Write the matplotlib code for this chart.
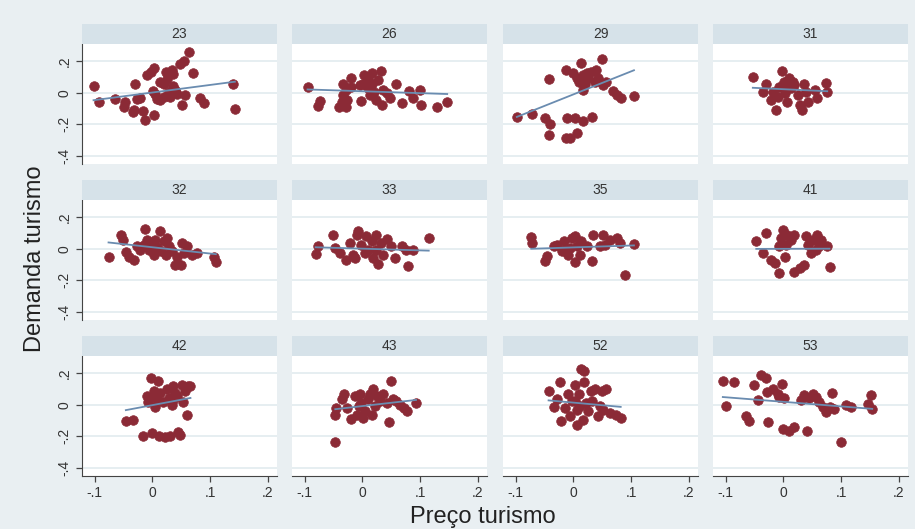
import matplotlib.pyplot as plt
import numpy as np

plt.rcParams['font.family'] = ['Liberation Sans', 'DejaVu Sans']

# dados (preço x demanda, por grupo)
groups = ['23', '26', '29', '31', '32', '33', '35', '41', '42', '43', '52', '53']

x23 = [-0.102, -0.092, -0.064, -0.047, -0.049, -0.032, -0.033, -0.031, -0.027, -0.021, -0.016, -0.013,
       0.002, -0.009, -0.003, 0.003, 0.001, 0.005, 0.008, 0.014, 0.020, 0.013, 0.020, 0.024, 0.028,
       0.031, 0.034, 0.036, 0.036, 0.040, 0.043, 0.047, 0.054, 0.052, 0.057, 0.064, 0.071, 0.083,
       0.090, 0.139, 0.143, 0.025]
y23 = [0.044, -0.059, -0.042, -0.057, -0.093, -0.106, -0.120, 0.059, -0.040, -0.030, -0.114, -0.170,
       -0.138, 0.112, 0.133, 0.155, 0.013, -0.008, -0.042, 0.070, 0.059, -0.047, -0.025, 0.133, 0.006,
       -0.025, 0.144, 0.117, 0.044, 0.017, -0.008, 0.186, 0.203, -0.078, -0.015, 0.260, 0.123, -0.036,
       -0.064, 0.055, -0.100, 0.090]

x26 = [-0.095, -0.074, -0.077, -0.041, -0.036, -0.033, -0.033, -0.029, -0.028, -0.026, -0.019, -0.020,
       -0.002, 0.001, 0.003, 0.009, 0.010, 0.013, 0.016, 0.017, 0.020, 0.024, 0.027, 0.033, 0.034,
       0.036, 0.042, 0.047, 0.059, 0.068, 0.080, 0.088, 0.099, 0.102, 0.130, 0.147, -0.005]
y26 = [0.034, -0.053, -0.085, -0.093, -0.057, -0.015, 0.059, -0.093, 0.021, -0.047, 0.091, 0.038,
       -0.051, 0.059, 0.112, 0.085, 0.028, -0.015, 0.127, 0.059, 0.006, -0.047, 0.081, 0.140, -0.078,
       0.017, -0.004, -0.030, 0.053, -0.064, 0.013, -0.030, 0.017, -0.078, -0.089, -0.061, 0.049]

x29 = [-0.098, -0.072, -0.050, -0.040, -0.043, -0.043, -0.013, -0.011, -0.013, -0.006, 0.002, 0.007,
       0.016, 0.013, 0.000, 0.006, 0.009, 0.016, 0.017, 0.020, 0.026, 0.030, 0.033, 0.037, 0.040,
       0.043, 0.049, 0.052, 0.056, 0.069, 0.075, 0.082, 0.105, 0.023]
y29 = [-0.153, -0.136, -0.163, -0.201, -0.269, 0.085, 0.144, -0.163, -0.290, -0.286, -0.157, -0.258,
       -0.180, 0.191, 0.123, 0.091, 0.070, 0.112, 0.021, 0.059, 0.091, 0.133, -0.153, 0.070, 0.144,
       0.097, 0.212, 0.049, 0.070, 0.013, -0.015, -0.030, -0.021, 0.123]

x31 = [-0.053, -0.036, -0.030, -0.022, -0.018, -0.013, -0.010, -0.007, -0.002, 0.001, 0.002, 0.007,
       0.010, 0.014, 0.019, 0.025, 0.028, 0.032, 0.035, 0.042, 0.039, 0.054, 0.059, 0.074, 0.076,
       0.008, 0.016]
y31 = [0.102, 0.006, 0.059, -0.047, 0.006, -0.106, -0.025, 0.038, 0.140, 0.070, -0.004, -0.057,
       0.091, 0.028, 0.049, -0.015, -0.078, -0.106, 0.059, -0.057, 0.006, 0.017, -0.030, 0.064, 0.006,
       0.038, 0.070]

x32 = [-0.076, -0.054, -0.051, -0.045, -0.041, -0.032, -0.027, -0.015, -0.012, -0.010, -0.006, -0.001,
       0.003, 0.008, 0.013, 0.015, 0.020, 0.023, 0.026, 0.028, 0.034, 0.040, 0.043, 0.049, 0.052,
       0.054, 0.060, 0.069, 0.078, 0.107, 0.110, -0.021, 0.005]
y32 = [-0.049, 0.089, 0.057, -0.021, -0.049, -0.070, 0.015, 0.026, 0.128, 0.057, -0.006, 0.036,
       -0.038, 0.009, 0.111, -0.017, 0.047, -0.038, 0.068, 0.015, -0.013, -0.102, -0.055, -0.102, 0.036,
       -0.028, 0.015, -0.038, -0.028, -0.049, -0.085, -0.006, 0.057]

x33 = [-0.081, -0.077, -0.051, -0.048, -0.039, -0.028, -0.022, -0.016, -0.013, -0.010, -0.008, -0.002,
       0.004, 0.007, 0.010, 0.016, 0.018, 0.023, 0.024, 0.027, 0.032, 0.036, 0.042, 0.050, 0.056,
       0.068, 0.076, 0.079, 0.088, 0.115]
y33 = [-0.034, 0.021, 0.089, 0.004, -0.028, -0.070, 0.036, -0.038, -0.060, 0.089, 0.115, 0.026,
       -0.028, 0.079, -0.006, 0.047, -0.060, 0.089, -0.006, -0.098, 0.036, -0.038, 0.064, 0.015, -0.060,
       0.015, -0.006, -0.106, -0.006, 0.068]

x35 = [-0.073, -0.072, -0.050, -0.046, -0.034, -0.029, -0.017, -0.014, -0.009, -0.003, 0.002, 0.003,
       0.006, 0.011, 0.014, 0.023, 0.032, 0.034, 0.046, 0.052, 0.055, 0.063, 0.076, 0.080, 0.089,
       0.105, -0.006, -0.020]
y35 = [0.072, 0.036, -0.077, -0.043, 0.015, 0.026, 0.047, -0.006, -0.038, 0.068, 0.079, -0.085,
       0.015, -0.038, 0.047, 0.015, -0.077, 0.089, 0.021, 0.085, 0.026, 0.057, 0.068, 0.036, -0.166,
       0.030, 0.004, -0.017]

x41 = [-0.047, -0.036, -0.031, -0.021, -0.014, -0.007, -0.007, -0.004, -0.001, 0.002, 0.005, 0.007,
       0.014, 0.019, 0.019, 0.028, 0.035, 0.039, 0.043, 0.047, 0.051, 0.057, 0.059, 0.065, 0.076,
       0.080, 0.062]
y41 = [0.051, -0.028, 0.100, -0.070, -0.091, -0.155, 0.015, 0.068, 0.121, -0.049, 0.026, 0.089,
       0.057, 0.089, -0.145, -0.123, -0.102, 0.079, 0.026, -0.028, 0.057, -0.006, 0.089, 0.057, 0.021,
       -0.113, 0.015]

x42 = [-0.046, -0.034, -0.016, -0.010, -0.007, -0.003, -0.001, 0.002, 0.005, 0.008, 0.010, 0.012,
       0.013, 0.019, 0.022, 0.025, 0.028, 0.031, 0.034, 0.036, 0.039, 0.042, 0.045, 0.048, 0.051,
       0.053, 0.057, 0.060, 0.062, 0.066, 0.003, 0.036]
y42 = [-0.100, -0.096, -0.198, 0.053, 0.021, 0.170, -0.181, 0.085, -0.015, 0.032, 0.149, -0.198,
       0.074, 0.021, -0.202, 0.100, 0.043, -0.198, 0.000, 0.117, 0.074, 0.053, -0.170, -0.191, 0.128,
       0.021, 0.085, -0.064, 0.117, 0.117, 0.053, 0.032]

x43 = [-0.047, -0.047, -0.045, -0.036, -0.032, -0.026, -0.019, -0.013, -0.010, -0.006, -0.005, 0.001,
       0.004, 0.009, 0.013, 0.016, 0.018, 0.021, 0.026, 0.030, 0.036, 0.042, 0.046, 0.049, 0.053,
       0.059, 0.065, 0.072, 0.078, 0.093, -0.002]
y43 = [-0.238, -0.062, -0.023, 0.034, 0.066, -0.019, -0.089, 0.055, -0.062, -0.009, 0.066, -0.083,
       -0.040, 0.034, 0.066, -0.062, 0.098, -0.009, 0.055, 0.023, 0.066, 0.013, -0.111, 0.149, 0.034,
       0.023, 0.002, -0.019, -0.040, 0.009, 0.013]

x52 = [-0.043, -0.034, -0.029, -0.023, -0.021, -0.014, -0.009, -0.006, -0.002, 0.003, 0.006, 0.007,
       0.010, 0.013, 0.016, 0.019, 0.019, 0.021, 0.026, 0.030, 0.033, 0.037, 0.042, 0.046, 0.050,
       0.056, 0.052, 0.063, 0.073, 0.082, 0.011, 0.003]
y52 = [0.087, -0.013, 0.034, 0.145, -0.104, -0.019, 0.066, -0.072, 0.023, 0.123, -0.126, -0.030,
       0.066, 0.226, -0.094, 0.215, 0.145, 0.013, -0.040, 0.087, 0.023, 0.098, -0.068, -0.009, 0.087,
       0.102, -0.030, -0.051, -0.062, -0.083, -0.009, 0.023]

x53 = [-0.105, -0.099, -0.086, -0.065, -0.059, -0.051, -0.044, -0.039, -0.030, -0.028, -0.027, -0.018,
       -0.010, -0.007, -0.003, 0.001, -0.001, 0.010, 0.019, 0.031, 0.036, 0.041, 0.045, 0.051, 0.056,
       0.062, 0.068, 0.074, 0.080, 0.085, 0.088, 0.099, 0.108, 0.117, 0.146, 0.152, 0.154]
y53 = [0.151, -0.009, 0.146, -0.069, -0.101, 0.129, 0.028, 0.189, 0.172, 0.082, -0.112, 0.099,
       0.071, 0.049, 0.135, 0.043, -0.155, -0.166, -0.138, 0.028, 0.060, -0.166, 0.043, 0.071, 0.049,
       0.017, -0.015, -0.043, -0.015, 0.077, -0.026, -0.237, 0.000, -0.015, 0.006, 0.065, -0.026]

xs = [x23, x26, x29, x31, x32, x33, x35, x41, x42, x43, x52, x53]
ys = [y23, y26, y29, y31, y32, y33, y35, y41, y42, y43, y52, y53]

# reta ajustada (lfit)
fit_slope = [0.48, -0.12, 1.46, -0.17, -0.40, -0.11, 0.12, 0.01, 0.69, 0.42, -0.33, -0.29]
fit_intercept = [0.002, 0.010, -0.010, 0.023, 0.010, 0.001, 0.009, 0.0, -0.002, -0.008, 0.014, 0.019]

xticks = [-0.1, 0, 0.1, 0.2]
xticklabels = ['-.1', '0', '.1', '.2']
yticks = [-0.4, -0.2, 0, 0.2]
yticklabels = ['-.4', '-.2', '0', '.2']

W, H = 915, 529
bg = '#E9EFF2'
strip_col = '#D6E2E9'
grid_col = '#E6EEF1'
dot_col = '#8B2A36'
line_col = '#6A8CB0'
txt_col = '#333333'

fig = plt.figure(figsize=(W / 100, H / 100), dpi=100, facecolor=bg)

col_left = [82, 292, 503, 713]
row_top = [44, 200, 356]
pw, ph, sh = 195, 120, 20

for i, g in enumerate(groups):
    r, c = divmod(i, 4)
    l, t = col_left[c], row_top[r]
    ax = fig.add_axes([l / W, 1 - (t + ph) / H, pw / W, ph / H])
    sax = fig.add_axes([l / W, 1 - t / H, pw / W, sh / H])

    sax.set_facecolor(strip_col)
    sax.set_xticks([])
    sax.set_yticks([])
    for s in sax.spines.values():
        s.set_visible(False)
    sax.text(0.5, 0.5, g, ha='center', va='center', fontsize=10, color=txt_col,
             transform=sax.transAxes)

    ax.set_facecolor('white')
    x = np.array(xs[i])
    y = np.array(ys[i])
    ax.scatter(x, y, s=48, color=dot_col, edgecolors=dot_col, linewidths=0.5, zorder=3)
    xl = np.array([x.min(), x.max()])
    ax.plot(xl, fit_intercept[i] + fit_slope[i] * xl, color=line_col, lw=1.3, zorder=4)

    ax.set_xlim(-0.122, 0.216)
    ax.set_ylim(-0.452, 0.31)
    ax.set_xticks(xticks)
    ax.set_xticklabels(xticklabels)
    ax.set_yticks(yticks)
    ax.set_yticklabels(yticklabels, rotation=90, va='center')
    ax.grid(axis='y', color=grid_col, lw=1.4, zorder=0)
    ax.set_axisbelow(True)
    ax.tick_params(colors='#444444', labelcolor=txt_col, labelsize=10, length=4, width=0.9)

    for s in ax.spines.values():
        s.set_visible(False)
    if c == 0:
        ax.spines['left'].set_visible(True)
        ax.spines['left'].set_color('#444444')
    else:
        ax.tick_params(axis='y', left=False, labelleft=False)
    if r == 2:
        ax.spines['bottom'].set_visible(True)
        ax.spines['bottom'].set_color('#444444')
    else:
        ax.tick_params(axis='x', bottom=False, labelbottom=False)

fig.text(0.038, 0.51, 'Demanda turismo', rotation=90, ha='center', va='center',
         fontsize=17, color='#222222')
fig.text(0.528, 0.022, 'Preço turismo', ha='center', va='center',
         fontsize=17, color='#222222')

fig.savefig('out.png', dpi=100, facecolor=bg)
